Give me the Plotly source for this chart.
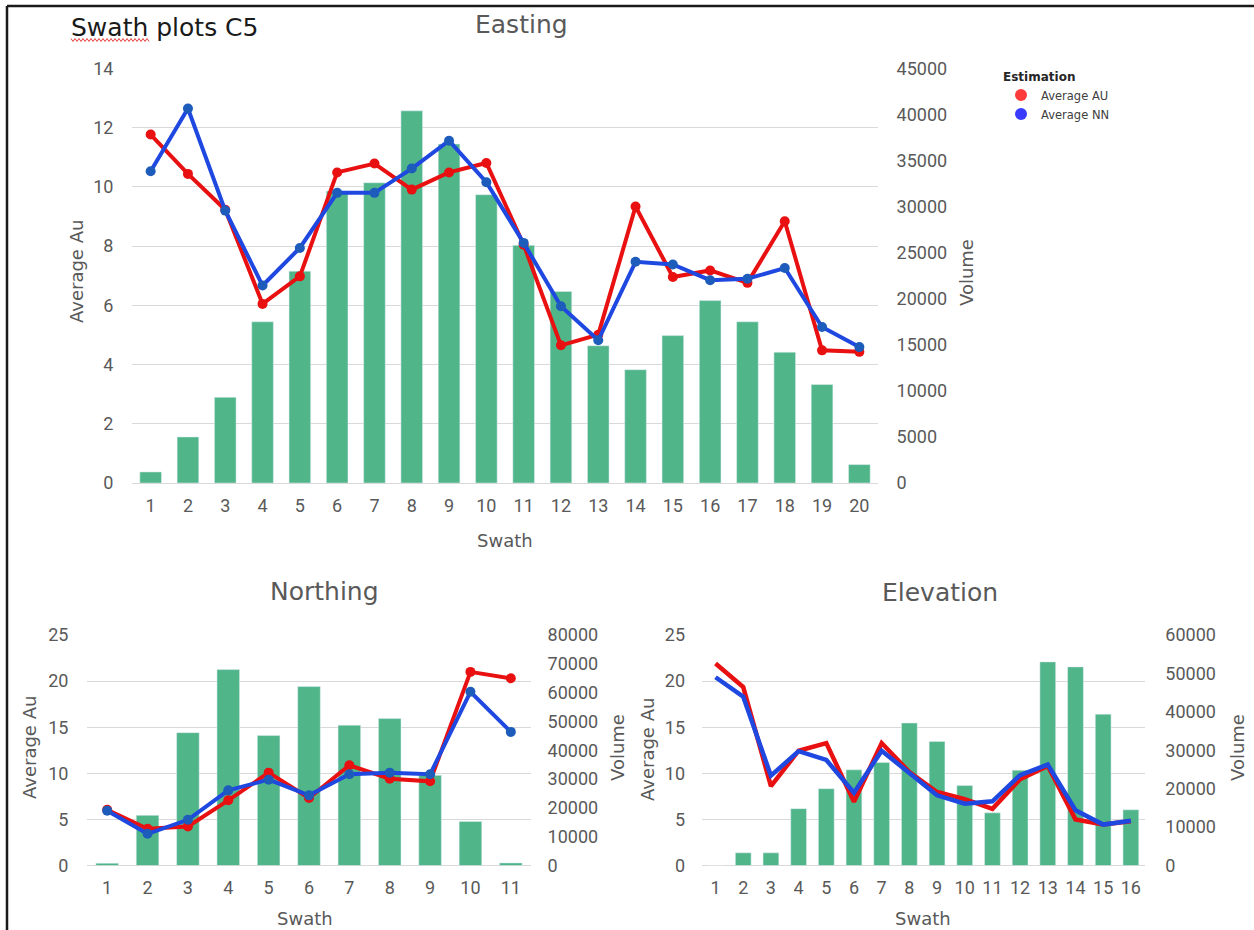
import numpy as np
import plotly.graph_objects as go

# ---- data ----
east_swath = list(range(1, 21))
east_volume = [1200, 5000, 9300, 17500, 23000, 31700, 32600, 40400, 36800, 31300,
               25800, 20800, 14900, 12300, 16000, 19800, 17500, 14200, 10700, 2000]
east_avg_au = [11.77, 10.44, 9.23, 6.05, 6.98, 10.49, 10.79, 9.91, 10.49, 10.81,
               8.05, 4.65, 5.01, 9.34, 6.96, 7.18, 6.76, 8.84, 4.48, 4.43]
east_avg_nn = [10.53, 12.65, 9.20, 6.67, 7.94, 9.80, 9.80, 10.62, 11.56, 10.16,
               8.11, 5.97, 4.82, 7.47, 7.38, 6.85, 6.90, 7.26, 5.27, 4.59]

north_swath = list(range(1, 12))
north_volume = [800, 17400, 46100, 68000, 45100, 62100, 48700, 51000, 31300, 15300, 900]
north_avg_au = [6.05, 3.99, 4.24, 7.07, 10.07, 7.32, 10.87, 9.42, 9.13, 21.0, 20.3]
north_avg_nn = [5.95, 3.44, 4.96, 8.15, 9.31, 7.61, 9.89, 10.07, 9.89, 18.84, 14.49]

elev_swath = list(range(1, 17))
elev_volume = [0, 3300, 3300, 14800, 20000, 24900, 26800, 37100, 32300, 20800,
               13700, 24800, 53000, 51700, 39400, 14500]
elev_avg_au = [21.9, 19.35, 8.6, 12.45, 13.28, 6.9, 13.28, 10.14, 7.97, 7.2,
               6.15, 9.35, 10.8, 5.0, 4.44, 4.8]
elev_avg_nn = [20.42, 18.3, 9.74, 12.4, 11.45, 7.9, 12.45, 10.03, 7.61, 6.71,
               6.96, 9.8, 10.95, 6.0, 4.44, 4.85]

W, H = 1254, 930
GREEN = "#50b68a"
RED = "#e81010"
BLUE = "#1f48e0"
BLUE_MK = "#1d5cba"
GRAY = "#595959"
GRID = "#d9d9d9"
FONT = "Roboto"
TFONT = "DejaVu Sans"


def fx(p):
    return p / W


def fy(p):
    return 1 - p / H


fig = go.Figure()

# ---- Easting ----
fig.add_trace(go.Bar(x=east_swath, y=east_volume, marker_color=GREEN, width=0.58,
                     xaxis="x", yaxis="y", showlegend=False))
fig.add_trace(go.Scatter(x=east_swath, y=east_avg_au, mode="lines+markers",
                         line=dict(color=RED, width=4), marker=dict(color=RED, size=10),
                         xaxis="x", yaxis="y2", showlegend=False))
fig.add_trace(go.Scatter(x=east_swath, y=east_avg_nn, mode="lines+markers",
                         line=dict(color=BLUE, width=4), marker=dict(color=BLUE_MK, size=10),
                         xaxis="x", yaxis="y2", showlegend=False))

# ---- Northing ----
fig.add_trace(go.Bar(x=north_swath, y=north_volume, marker_color=GREEN, width=0.56,
                     xaxis="x2", yaxis="y3", showlegend=False))
fig.add_trace(go.Scatter(x=north_swath, y=north_avg_au, mode="lines+markers",
                         line=dict(color=RED, width=4), marker=dict(color=RED, size=10),
                         xaxis="x2", yaxis="y4", showlegend=False))
fig.add_trace(go.Scatter(x=north_swath, y=north_avg_nn, mode="lines+markers",
                         line=dict(color=BLUE, width=4), marker=dict(color=BLUE_MK, size=10),
                         xaxis="x2", yaxis="y4", showlegend=False))

# ---- Elevation ----
fig.add_trace(go.Bar(x=elev_swath, y=elev_volume, marker_color=GREEN, width=0.57,
                     xaxis="x3", yaxis="y5", showlegend=False))
fig.add_trace(go.Scatter(x=elev_swath, y=elev_avg_au, mode="lines",
                         line=dict(color=RED, width=4.5),
                         xaxis="x3", yaxis="y6", showlegend=False))
fig.add_trace(go.Scatter(x=elev_swath, y=elev_avg_nn, mode="lines",
                         line=dict(color=BLUE, width=4.5),
                         xaxis="x3", yaxis="y6", showlegend=False))

# legend entries
fig.add_trace(go.Scatter(x=[None], y=[None], mode="markers", name="Average AU",
                         marker=dict(color="#ff3b3b", size=12), xaxis="x", yaxis="y2"))
fig.add_trace(go.Scatter(x=[None], y=[None], mode="markers", name="Average NN",
                         marker=dict(color="#3b3bff", size=12), xaxis="x", yaxis="y2"))


def xax(domain, anchor, n, size):
    return dict(domain=domain, anchor=anchor, range=[0.5, n + 0.5], tickmode="array",
                tickvals=list(range(1, n + 1)), ticks="outside", ticklen=6,
                tickcolor="rgba(0,0,0,0)", showgrid=False, zeroline=False,
                showline=False, automargin=False,
                tickfont=dict(family=FONT, size=size, color=GRAY))


def vol_ax(domain, anchor, top, step, size, tl):
    return dict(domain=domain, anchor=anchor, side="right", range=[0, top], dtick=step,
                tickformat="d", showgrid=False, zeroline=False, showline=False,
                ticks="outside", ticklen=tl, tickcolor="rgba(0,0,0,0)", automargin=False,
                tickfont=dict(family=FONT, size=size, color=GRAY))


def au_ax(over, anchor, top, step, size, tl):
    return dict(overlaying=over, anchor=anchor, side="left", range=[0, top], dtick=step,
                showgrid=True, gridcolor=GRID, gridwidth=1, zeroline=True,
                zerolinecolor=GRID, zerolinewidth=1, showline=False, ticks="outside",
                ticklen=tl, tickcolor="rgba(0,0,0,0)", automargin=False,
                tickfont=dict(family=FONT, size=size, color=GRAY))


top_x = [fx(132), fx(878)]
top_y = [fy(483), fy(68.5)]
nor_x = [fx(87), fx(531)]
ele_x = [fx(701.7), fx(1144.7)]
bot_y = [fy(865.5), fy(635)]

annotations = [
    dict(text="Swath plots C5", x=fx(69), y=fy(27), xanchor="left", yanchor="middle",
         font=dict(family=TFONT, size=25, color="#1a1a1a")),
    dict(text="Easting", x=fx(521), y=fy(25), xanchor="center", yanchor="middle",
         font=dict(family=TFONT, size=25, color=GRAY)),
    dict(text="Northing", x=fx(324), y=fy(591), xanchor="center", yanchor="middle",
         font=dict(family=TFONT, size=25, color=GRAY)),
    dict(text="Elevation", x=fx(940), y=fy(592), xanchor="center", yanchor="middle",
         font=dict(family=TFONT, size=25, color=GRAY)),
]


def axis_title(text, x, y, angle=0, size=18):
    annotations.append(dict(text=text, x=fx(x), y=fy(y), xanchor="center", yanchor="middle",
                            textangle=angle, font=dict(family=TFONT, size=size, color=GRAY)))


axis_title("Average Au", 76, 272, -90)
axis_title("Volume", 967, 273, -90)
axis_title("Swath", 505, 540)
axis_title("Average Au", 29, 748, -90)
axis_title("Volume", 617, 748, -90)
axis_title("Swath", 305, 918)
axis_title("Average Au", 647, 750, -90)
axis_title("Volume", 1237, 748, -90)
axis_title("Swath", 923, 918)

for a in annotations:
    a.update(xref="paper", yref="paper", showarrow=False)

# frame and the spell-check squiggle under "Swath"
sq_x = np.arange(71, 151, 2.0)
sq_y = np.where(np.arange(len(sq_x)) % 2 == 0, 38.5, 41.5)
sq_path = "M " + " L ".join(f"{fx(a):.5f},{fy(b):.5f}" for a, b in zip(sq_x, sq_y))
shapes = [
    dict(type="line", xref="paper", yref="paper", x0=fx(7), x1=1, y0=fy(6), y1=fy(6),
         line=dict(color="#1a1a1a", width=2.5)),
    dict(type="line", xref="paper", yref="paper", x0=fx(7), x1=fx(7), y0=0, y1=fy(6),
         line=dict(color="#1a1a1a", width=2.5)),
    dict(type="path", xref="paper", yref="paper", path=sq_path,
         line=dict(color="#e04040", width=1)),
]

fig.update_layout(
    width=W, height=H, margin=dict(l=0, r=0, t=0, b=0, autoexpand=False),
    paper_bgcolor="white", plot_bgcolor="rgba(0,0,0,0)",
    font=dict(family=FONT, color=GRAY),
    xaxis=xax(top_x, "y", 20, 18),
    yaxis=vol_ax(top_y, "x", 45000, 5000, 18, 14),
    yaxis2=au_ax("y", "x", 14, 2, 18, 14),
    xaxis2=xax(nor_x, "y3", 11, 18),
    yaxis3=vol_ax(bot_y, "x2", 80000, 10000, 18, 12),
    yaxis4=au_ax("y3", "x2", 25, 5, 18, 14),
    xaxis3=xax(ele_x, "y5", 16, 18),
    yaxis5=vol_ax(bot_y, "x3", 60000, 10000, 18, 16),
    yaxis6=au_ax("y5", "x3", 25, 5, 18, 12),
    legend=dict(x=fx(1001), y=fy(65), xanchor="left", yanchor="top",
                title=dict(text="<b>Estimation</b>",
                           font=dict(family=TFONT, size=12, color="#262626")),
                font=dict(family=TFONT, size=11.5, color="#404040"),
                bgcolor="rgba(0,0,0,0)", itemsizing="constant", tracegroupgap=0),
    annotations=annotations,
    shapes=shapes,
)

fig.write_html("out.html", config={"displayModeBar": False},
               post_script="document.body.style.margin='0';"
                           "document.documentElement.style.overflow='hidden';")
